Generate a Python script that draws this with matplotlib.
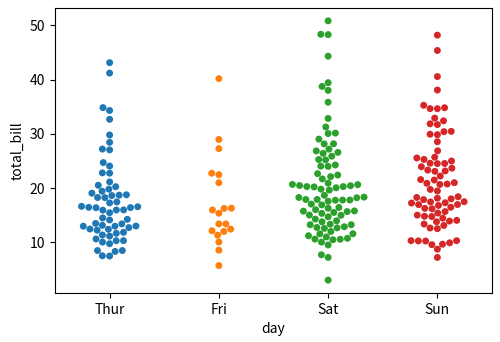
import matplotlib
matplotlib.use("Agg")
import matplotlib.pyplot as plt
import pandas as pd
import seaborn as sns

days_order = ["Thur", "Fri", "Sat", "Sun"]

thur = [27.20, 22.76, 17.29, 19.44, 16.66, 10.07, 32.68, 15.98, 34.83, 13.03, 18.28, 24.71, 21.16,
        10.65, 12.43, 24.08, 11.69, 13.42, 14.26, 15.95, 12.48, 29.80, 8.52, 14.52, 11.38, 22.82,
        19.08, 20.27, 11.17, 12.26, 18.26, 8.51, 10.33, 14.15, 16.00, 13.16, 17.47, 34.30, 41.19,
        27.05, 16.43, 8.35, 18.64, 11.87, 9.78, 7.51,
        19.81, 28.44, 15.48, 16.58, 7.56, 10.34, 43.11, 13.00, 13.51, 18.71, 12.74, 13.00, 16.40,
        20.53, 16.47, 18.78]
fri = [28.97, 22.49, 5.75, 16.32, 22.75, 40.17, 27.28, 12.03, 21.01, 12.46, 11.35, 15.38,
       12.16, 13.42, 8.58, 15.98, 13.42, 16.27, 10.09]
sat = [20.65, 17.92, 20.29, 15.77, 39.42, 19.82, 17.81, 13.37, 12.69, 21.70, 19.65, 9.55, 18.35,
       15.06, 20.69, 17.78, 24.06, 16.31, 16.93, 18.69, 31.27, 16.04,
       38.01, 26.41, 11.24, 48.27, 20.29, 13.81, 11.02, 18.29, 17.59, 20.08, 16.45, 3.07, 20.23,
       15.01, 12.02, 17.07, 26.86, 25.28, 14.73, 10.51, 17.92,
       44.30, 22.42, 20.92, 15.36, 20.49, 25.21, 18.24, 14.31, 14.00, 7.25,
       10.59, 10.63, 50.81, 15.81,
       26.59, 38.73, 24.27, 12.76, 30.06, 25.89, 48.33, 13.27, 28.17, 12.90, 28.15, 11.59, 7.74, 30.14,
       20.45, 13.28, 22.12, 24.01, 15.69, 11.61, 10.77, 15.53, 10.07, 12.60, 32.83, 35.83, 29.03,
       27.18, 22.67, 17.82]
sun = [16.99, 10.34, 21.01, 23.68, 24.59, 25.29, 8.77, 26.88, 15.04, 14.78, 10.27, 35.26, 15.42,
       18.43, 14.83, 21.58, 10.33, 16.29, 16.97,
       17.46, 13.94, 9.68, 30.40, 18.29, 22.23, 32.40, 28.55, 18.04, 12.54, 10.29, 34.81, 9.94,
       25.56, 19.49,
       38.07, 23.95, 25.71, 17.31, 29.93,
       14.07, 13.13, 17.26, 24.55, 19.77, 29.85, 48.17, 25.00, 13.39, 16.49, 21.50, 12.66, 16.21,
       13.81, 17.51, 24.52, 20.76, 31.71,
       7.25, 31.85, 16.82, 32.90, 17.89, 14.48, 9.60, 34.63, 34.65, 23.33, 45.35, 23.17, 40.55,
       20.69, 20.90, 30.46, 18.15, 23.10, 15.69]

values = thur + fri + sat + sun
labels = ["Thur"] * len(thur) + ["Fri"] * len(fri) + ["Sat"] * len(sat) + ["Sun"] * len(sun)
df = pd.DataFrame({"day": pd.Categorical(labels, categories=days_order, ordered=True),
                   "total_bill": values})

plt.rcParams["font.family"] = ["Noto Sans CJK JP", "DejaVu Sans"]
fig, ax = plt.subplots(figsize=(5.0, 3.42), dpi=100)
fig.subplots_adjust(left=0.11, right=0.984, top=0.977, bottom=0.143)
sns.swarmplot(data=df, x="day", y="total_bill", hue="day", order=days_order,
              hue_order=days_order, palette="tab10", legend=False, size=5, ax=ax)
fig.savefig("out.png", dpi=100)
